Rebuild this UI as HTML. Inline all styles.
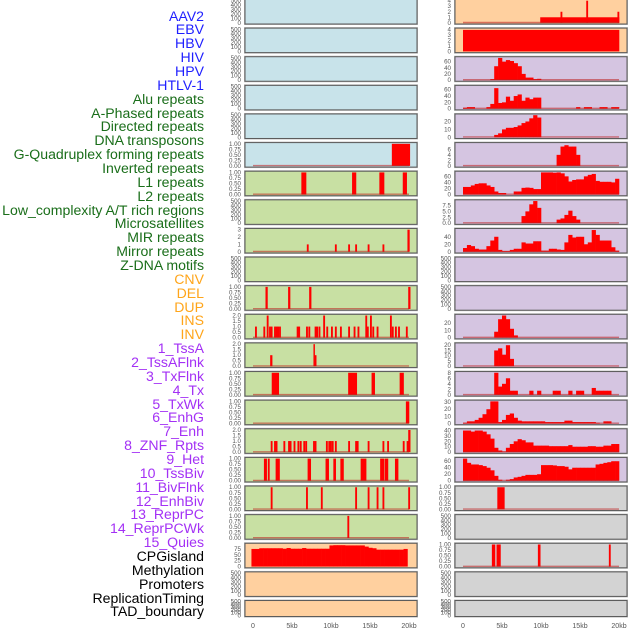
<!DOCTYPE html>
<html><head><meta charset="utf-8">
<style>
html,body{margin:0;padding:0;background:#fff;width:630px;height:630px;overflow:hidden}
#labels{position:absolute;left:0;top:0;width:204px;height:630px}
.lab{position:absolute;right:0;font-family:"Liberation Sans",sans-serif;font-size:14.1px;line-height:14px;white-space:nowrap;text-align:right}
svg{position:absolute;left:0;top:0}
</style></head>
<body>
<div id="labels"></div>
<svg id="chart" width="630" height="630"></svg>
<script>
// ---- data ----
const trackLabels = ["AAV2","EBV","HBV","HIV","HPV","HTLV-1","Alu repeats","A-Phased repeats","Directed repeats","DNA transposons","G-Quadruplex forming repeats","Inverted repeats","L1 repeats","L2 repeats","Low_complexity A/T rich regions","Microsatellites","MIR repeats","Mirror repeats","Z-DNA motifs","CNV","DEL","DUP","INS","INV","1_TssA","2_TssAFlnk","3_TxFlnk","4_Tx","5_TxWk","6_EnhG","7_Enh","8_ZNF_Rpts","9_Het","10_TssBiv","11_BivFlnk","12_EnhBiv","13_ReprPC","14_ReprPCWk","15_Quies","CPGisland","Methylation","Promoters","ReplicationTiming","TAD_boundary"];
const labelGroups = [0,0,0,0,0,0,1,1,1,1,1,1,1,1,1,1,1,1,1,2,2,2,2,2,3,3,3,3,3,3,3,3,3,3,3,3,3,3,3,4,4,4,4,4];
const xTicks = [0,5,10,15,20];
const xTickLabels = ["0","5kb","10kb","15kb","20kb"];

// left panels: bars [startKb,endKb,value]
const leftBg = ["b","b","b","b","b","b","g","g","g","g","g","g","g","g","g","g","g","g","g","o","o","o"];
const leftMax = [500,500,500,500,500,1,1,500,3,500,1,2,2,1,1,2,1,1,1,94,500,500];
const leftTicks = [
 [0,100,200,300,400,500],[0,100,200,300,400,500],[0,100,200,300,400,500],[0,100,200,300,400,500],[0,100,200,300,400,500],
 [0,0.25,0.5,0.75,1],[0,0.25,0.5,0.75,1],[0,100,200,300,400,500],[0,1,2,3],[0,100,200,300,400,500],
 [0,0.25,0.5,0.75,1],[0,0.5,1,1.5,2],[0,0.5,1,1.5,2],[0,0.25,0.5,0.75,1],[0,0.25,0.5,0.75,1],
 [0,0.5,1,1.5,2],[0,0.25,0.5,0.75,1],[0,0.25,0.5,0.75,1],[0,0.25,0.5,0.75,1],[0,25,50,75],
 [0,100,200,300,400,500],[0,100,200,300,400,500]];
const ins = [0.26,1.33,2.06,2.27,2.7,2.9,3.1,3.34,5.6,5.8,6.8,7.1,7.9,8.1,8.4,9.4,10.0,10.5,11.15,12.2,12.9,13.4,14.6,15.3,15.85,17.8,18.2,18.6,19.6];
const ins2 = [1.76,9.0,14.4,15.0,17.56];
const enh = [2.27,2.7,2.9,3.9,4.5,4.7,5.2,5.7,6.0,6.45,6.7,7.7,7.9,9.35,9.66,9.87,10.1,10.5,12.2,13.1,13.3,14.7,16.6,17.2,19.2,19.7];
const enh2 = [19.9];
const delPos = [1.6,4.5,7.2,19.9];
const mirPos = [6.9,10.5,12.2,13.1,14.7,16.6];
const bivFlnk = [2.27,6.8,8.7,13.1,14.7,15.85,16.6,19.9];
const cpgBins = [75,75,78,78,78,78,78,78,76,79,76,76,76,79,76,76,76,76,76,76,90,91,91,91,90,90,90,90,90,85,80,78,72,72,72,72,72,72,72,75];
const leftBars = [
 [],[],[],[],[],
 [[17.8,20.1,1]],
 [[6.2,6.8,1],[12.7,13.2,1],[16.2,16.8,1],[19.2,19.7,1]],
 [],
 mirPos.map(k=>[k,k+0.2,1]).concat([[19.8,20.05,3]]),
 [],
 delPos.map(k=>[k,k+0.25,1]),
 ins.map(k=>[k,k+0.2,1]).concat(ins2.map(k=>[k,k+0.2,2])),
 [[2.2,2.45,1],[7.75,7.9,2],[7.9,8.1,1]],
 [[2.4,3.3,1],[12.2,13.3,1],[15.2,15.6,1],[18.8,19.3,1]],
 [[19.6,20.0,1]],
 enh.map(k=>[k,k+0.2,1]).concat(enh2.map(k=>[k,k+0.25,2])),
 [[1.4,1.75,1],[1.9,2.1,1],[2.9,3.4,1],[7.0,7.4,1],[9.3,9.7,1],[10.3,10.6,1],[11.2,11.6,1],[13.8,14.5,1],[16.3,16.8,1],[16.9,17.3,1],[18.2,18.6,1]],
 bivFlnk.map(k=>[k,k+0.2,1]),
 [[12.1,12.3,1]],
 cpgBins.map((v,i)=>[i*0.5-0.2,i*0.5+0.3,v]),
 [],[]];
const leftBase = [0,0,0,0,0,1,1,0,1,0,1,1,1,1,1,1,1,1,1,0,0,0];

// right panels
const rightBg = ["o","o","p","p","p","p","p","p","p","p","p","p","p","p","p","p","p","y","y","y","y","y"];
const rightMax = [4,4,72,70,28,8,73,9.4,59,500,500,30,21,8,31,41,68,1,500,1,500,500];
const rightTicks = [
 [0,1,2,3,4],[0,1,2,3,4],[0,20,40,60],[0,20,40,60],[0,10,20],[0,2,4,6],[0,20,40,60],[0,2.5,5,7.5],[0,20,40],
 [0,100,200,300,400,500],[0,100,200,300,400,500],[0,10,20],[0,5,10,15,20],[0,2,4,6,8],[0,10,20,30],[0,10,20,30,40],[0,20,40,60],
 [0,0.25,0.5,0.75,1],[0,100,200,300,400,500],[0,0.25,0.5,0.75,1],[0,100,200,300,400,500],[0,100,200,300,400,500]];
const hivBins = [0,0,0,0,0,0,0,3,45,72,60,65,62,55,45,20,8,8,3,4,0,0,0,0,0,0,0,0,0,0,0,0,0,0,0,0,0,0,0,0];
const aluBins = [3,5,5,0,0,0,5,15,65,18,20,38,25,40,45,25,35,30,35,35,0,0,0,0,0,0,0,0,0,5,0,5,5,0,0,5,5,0,5,5];
const dirBins = [0,0,0,0,0,0,0,0,3,5,10,12,12,13,15,18,20,24,28,25,0,0,0,0,0,0,0,0,0,0,0,0,0,0,0,0,0,0,0,0];
const gquadBins = [0,0,0,0,0,0,0,0,0,0,0,0,0,0,0,0,0,0,0,0,0,0,0,0,4,7,7.5,7,7,4,0,0,0,0,0,0,0,0,0,0];
const l1Bins = [25,25,30,35,37,37,30,25,10,5,5,0,0,10,10,22,23,22,18,18,73,73,73,72,73,70,60,43,48,50,50,60,65,68,45,42,42,42,40,52];
const lowBins = [0,0,0,0,0,0,0,0,0,0,0,0,0,0,0,3,5,8,9.5,6.5,0,0,0,0,1.5,2,3.5,5.3,3,1.5,0,0,0,0,0,0,0,0,0,0];
const mirBins = [10,18,15,8,6,6,15,30,40,5,2,2,5,8,8,25,22,22,28,28,3,3,8,8,6,5,25,45,38,40,40,20,25,58,45,30,30,30,12,3];
const insBins = [0,0,0,0,0,0,0,0,8,25,30,25,12,3,0,0,0,0,0,0,0,0,0,0,0,0,0,0,0,0,0,0,0,0,0,0,0,0,0,0];
const tssaBins = [0,0,0,0,0,0,0,0,15,17,11,20,7,0,0,0,0,0,0,0,0,0,0,0,0,0,0,0,0,0,0,0,0,0,0,0,0,0,0,0];
const txflnkBins = [0,0,0,0,0,0,0,0,8,3,4,6,1.5,1.5,0,0,0,1.5,0,1.5,0,0,0,1.5,1.5,0,0,1.5,0,1.5,1.5,0,0,2.5,1.5,1.5,1.5,1.5,0,0];
const txwkBins = [1,3,3,5,8,13,20,31,31,2,5,12,14,8,4,3,3,3,3,3,3,2,2,2,2,2,4,4,2,2,2,2,2,2,1,0,3,3,0,0];
const enhBins = [40,40,38,40,40,38,33,25,8,3,1,8,15,20,24,22,18,18,12,12,12,12,11,11,11,11,11,13,10,10,10,10,11,11,10,10,12,12,15,15];
const tssbivBins = [68,55,50,50,48,45,40,32,15,3,0,3,5,10,12,15,18,18,18,20,48,48,48,47,45,45,43,35,40,40,40,40,40,40,50,52,55,57,60,60];
const binsToBars = b => b.map((v,i)=>[i*0.5,i*0.5+0.5,v]).filter(d=>d[2]>0);
const rightBars = [
 [[9.9,20,1],[12.5,12.7,2],[15.8,16.0,4],[19.8,20,2]],
 [[0,20,3.9]],
 binsToBars(hivBins), binsToBars(aluBins), binsToBars(dirBins), binsToBars(gquadBins),
 binsToBars(l1Bins), binsToBars(lowBins), binsToBars(mirBins), [], [],
 binsToBars(insBins), binsToBars(tssaBins), binsToBars(txflnkBins), binsToBars(txwkBins),
 binsToBars(enhBins), binsToBars(tssbivBins),
 [[4.4,5.3,1]], [],
 [[3.7,4.1,1],[4.3,4.8,1],[9.6,9.9,1],[18.7,18.9,1]],
 [],[]];
const rightBase = [1,0,1,1,1,1,1,1,1,0,0,1,1,1,1,1,1,1,0,1,0,0];

// ---- render ----
const colors = {b:"#c8e3ea",g:"#c8e0a3",o:"#ffd09f",p:"#d5c5e1",y:"#d3d3d3"};
const groupColors = ["#1f1fff","#1a6e1a","#ffa51a","#a330f5","#000000"];
const NS="http://www.w3.org/2000/svg";
const svg=document.getElementById('chart');
const labelsDiv=document.getElementById('labels');

trackLabels.forEach((t,i)=>{
  const d=document.createElement('div');
  d.className='lab';
  d.style.top=(15+i*13.86-6.5)+'px';
  d.style.color=groupColors[labelGroups[i]];
  d.textContent=t;
  
  
  labelsDiv.appendChild(d);
});

function el(tag,attrs,parent){const e=document.createElementNS(NS,tag);for(const k in attrs)e.setAttribute(k,attrs[k]);(parent||svg).appendChild(e);return e;}
function fmt(v,ticks){
  const dec = ticks.includes(0.25) ? 2 : (ticks.some(t=>t%1!==0)?1:0);
  return v.toFixed(dec);
}

function drawPanel(side,i,bg,ymax,ticks,bars,base){
  const px = side==='L'?245:455, pw=172;
  const x0 = side==='L'?253:463;
  const xs = kb => x0 + kb*7.8;
  const top = i*28.62 - 0.5;
  const h = i===21 ? 16 : 24.5;
  const ys = v => top+h-1.2 - Math.min(v,ymax)/ymax*(h-2.4);
  const g=el('g',{});
  
  
  el('rect',{x:px-0.5,y:top-0.5,width:pw+1,height:h+1,fill:'none',stroke:'#bbb','stroke-width':1},g);
  el('rect',{x:px,y:top,width:pw,height:h,fill:colors[bg],stroke:'#5a5a5a','stroke-width':1},g);
  bars.forEach(b=>{
    const r=el('rect',{x:xs(b[0]),y:ys(b[2]),width:Math.max(1.2,xs(b[1])-xs(b[0])+0.3),height:ys(0)-ys(b[2]),fill:'#ff0000'},g);
    
    
  });
  if(base){
    el('line',{x1:xs(0),x2:xs(20),y1:ys(0)-0.3,y2:ys(0)-0.3,stroke:'rgba(190,30,30,0.55)','stroke-width':1.4},g);
  }
  ticks.forEach(t=>{
    const tx=el('text',{x:px-4,y:ys(t)+2,'font-size':6.2,'font-family':'Liberation Sans, sans-serif',fill:'#555','text-anchor':'end'},g);
    tx.textContent=fmt(t,ticks);
    
    
  });
}
for(let i=0;i<22;i++){
  drawPanel('L',i,leftBg[i],leftMax[i],leftTicks[i],leftBars[i],leftBase[i]);
  drawPanel('R',i,rightBg[i],rightMax[i],rightTicks[i],rightBars[i],rightBase[i]);
}
['L','R'].forEach(s=>{
  const x0 = s==='L'?253:463;
  xTicks.forEach((k,j)=>{
    const t=el('text',{x:x0+k*7.8,y:628,'font-size':7,'font-family':'Liberation Sans, sans-serif',fill:'#555','text-anchor':'middle'});
    t.textContent=xTickLabels[j];
    
    
  });
});
</script>
</body></html>
